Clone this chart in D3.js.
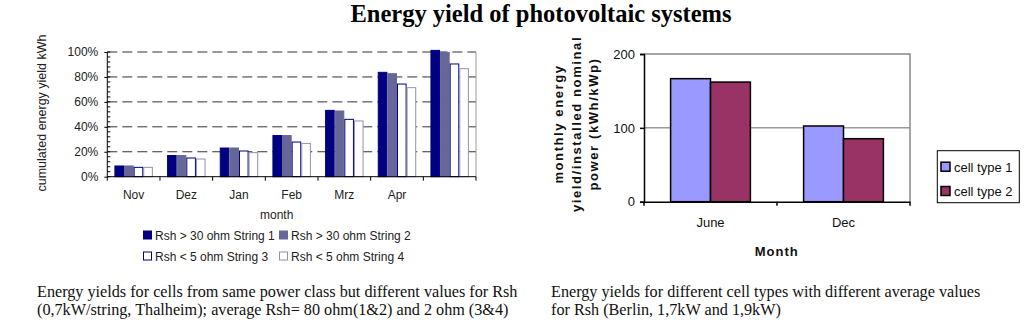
<!DOCTYPE html>
<html>
<head>
<meta charset="utf-8">
<script src="https://cdn.jsdelivr.net/npm/d3@7/dist/d3.min.js"></script>
<style>
  body { margin: 0; background: #fff; }
  svg text { font-family: "Liberation Sans", Arial, sans-serif; }
  .serif { font-family: "Liberation Serif", "Times New Roman", serif !important; }
</style>
</head>
<body>
<svg id="chart" width="1024" height="323"></svg>
<script>
// left chart: cumulated yield per string
const months = ["Nov", "Dez", "Jan", "Feb", "Mrz", "Apr", ""];
const string1 = [0.086, 0.17, 0.23, 0.33, 0.532, 0.837, 1.013];
const string2 = [0.086, 0.17, 0.23, 0.33, 0.527, 0.826, 0.997];
const string3 = [0.075, 0.15, 0.206, 0.278, 0.46, 0.743, 0.904];
const string4 = [0.075, 0.142, 0.193, 0.267, 0.447, 0.714, 0.866];
const stringNames = ["Rsh > 30 ohm String 1", "Rsh > 30 ohm String 2",
                     "Rsh < 5 ohm String 3", "Rsh < 5 ohm String 4"];
const pctTicks = [0, 0.2, 0.4, 0.6, 0.8, 1.0];

// right chart: monthly yield per cell type
const periods = ["June", "Dec"];
const cellType1 = [166.6, 102.5];
const cellType2 = [162, 85.3];
const cellNames = ["cell type 1", "cell type 2"];
const yieldTicks = [0, 100, 200];

const svg = d3.select("#chart");

svg.append("text")
    .attr("class", "serif")
    .attr("x", 541).attr("y", 22)
    .attr("text-anchor", "middle")
    .style("font-size", "24.5px").style("font-weight", "bold")
    .text("Energy yield of photovoltaic systems");

// ---------- left chart ----------
const L = { left: 107.3, right: 476, top: 52, bottom: 176.7 };
const strings = [string1, string2, string3, string4];
const stringFill = ["#000080", "#666699", "#ffffff", "#ffffff"];
const stringStroke = ["#000080", "#666699", "#000080", "#9090b0"];

const x0 = d3.scaleBand().domain(d3.range(months.length))
    .range([L.left, L.right]).paddingInner(0.27).paddingOuter(0.135);
const x1 = d3.scaleBand().domain(d3.range(strings.length))
    .range([0, x0.bandwidth()]);
const yL = d3.scaleLinear().domain([0, 1]).range([L.bottom, L.top]);

const gl = svg.append("g");

// dashed grid
gl.append("g").selectAll("line")
    .data(pctTicks.slice(1))
    .join("line")
    .attr("x1", L.left).attr("x2", L.right)
    .attr("y1", d => yL(d)).attr("y2", d => yL(d))
    .attr("stroke", "#333").attr("stroke-width", 1)
    .attr("stroke-dasharray", "10,5");

// right frame edge
gl.append("line")
    .attr("x1", L.right).attr("x2", L.right)
    .attr("y1", L.top).attr("y2", L.bottom)
    .attr("stroke", "#999");

// bars
strings.forEach((vals, s) => {
    gl.append("g").selectAll("rect")
        .data(vals)
        .join("rect")
        .attr("x", (d, i) => x0(i) + x1(s) + 0.5)
        .attr("y", d => yL(d))
        .attr("width", x1.bandwidth() - 1)
        .attr("height", d => L.bottom - yL(d))
        .attr("fill", stringFill[s])
        .attr("stroke", stringStroke[s]).attr("stroke-width", 1);
});

// y axis
const yAxisL = d3.axisLeft(yL).tickValues(pctTicks)
    .tickFormat(d3.format(".0%")).tickSize(3).tickPadding(6);
gl.append("g")
    .attr("transform", `translate(${L.left},0)`)
    .call(yAxisL)
    .call(g => g.select(".domain").remove())
    .call(g => g.selectAll("text").style("font-size", "12px").attr("fill", "#222"));
gl.append("g").selectAll("line")
    .data(d3.range(0, 1.0001, 0.04))
    .join("line")
    .attr("x1", L.left).attr("x2", L.left + 3)
    .attr("y1", d => yL(d)).attr("y2", d => yL(d))
    .attr("stroke", "#000");
gl.append("line")
    .attr("x1", L.left).attr("x2", L.left)
    .attr("y1", L.top).attr("y2", L.bottom)
    .attr("stroke", "#000");

// x axis: category boundaries and labels
const stepL = x0.step();
gl.append("line")
    .attr("x1", L.left).attr("x2", L.right)
    .attr("y1", L.bottom).attr("y2", L.bottom)
    .attr("stroke", "#000");
gl.append("g").selectAll("line")
    .data(d3.range(months.length + 1))
    .join("line")
    .attr("x1", i => L.left + i * stepL).attr("x2", i => L.left + i * stepL)
    .attr("y1", L.bottom).attr("y2", L.bottom + 4)
    .attr("stroke", "#000");
gl.append("g").selectAll("text")
    .data(months)
    .join("text")
    .attr("x", (d, i) => x0(i) + x0.bandwidth() / 2)
    .attr("y", 199)
    .attr("text-anchor", "middle")
    .style("font-size", "12px").attr("fill", "#222")
    .text(d => d);

gl.append("text")
    .attr("x", 276.7).attr("y", 219)
    .attr("text-anchor", "middle")
    .style("font-size", "12px").attr("fill", "#222")
    .text("month");

gl.append("text")
    .attr("transform", "translate(46,113) rotate(-90)")
    .attr("text-anchor", "middle")
    .style("font-size", "12.5px").attr("fill", "#222")
    .text("cumulated energy yield kWh");

// legend
const legendPos = [[143, 235], [279, 235], [143, 256], [279, 256]];
const lgL = gl.append("g").selectAll("g")
    .data(stringNames)
    .join("g")
    .attr("transform", (d, i) => `translate(${legendPos[i][0]},${legendPos[i][1]})`);
lgL.append("rect")
    .attr("x", 0.5).attr("y", -4).attr("width", 8).attr("height", 8)
    .attr("fill", (d, i) => stringFill[i])
    .attr("stroke", (d, i) => stringStroke[i]);
lgL.append("text")
    .attr("x", 12).attr("y", 4.5)
    .style("font-size", "12px").attr("fill", "#222")
    .text(d => d);

// ---------- right chart ----------
const R = { left: 644, right: 910, top: 54, bottom: 201.7 };
const cells = [cellType1, cellType2];
const cellFill = ["#9999ff", "#993366"];

const xr0 = d3.scaleBand().domain(periods)
    .range([R.left, R.right]).paddingInner(0.4).paddingOuter(0.2);
const xr1 = d3.scaleBand().domain(d3.range(cells.length))
    .range([0, xr0.bandwidth()]);
const yR = d3.scaleLinear().domain([0, 200]).range([R.bottom, R.top]);

const gr = svg.append("g");

// grid and frame
gr.append("g").selectAll("line")
    .data(yieldTicks.slice(1, -1))
    .join("line")
    .attr("x1", R.left).attr("x2", R.right)
    .attr("y1", d => yR(d)).attr("y2", d => yR(d))
    .attr("stroke", "#666");
gr.append("path")
    .attr("d", `M${R.left},${R.top}H${R.right}V${R.bottom}`)
    .attr("fill", "none").attr("stroke", "#888").attr("stroke-width", 1.5);

cells.forEach((vals, s) => {
    gr.append("g").selectAll("rect")
        .data(vals)
        .join("rect")
        .attr("x", (d, i) => xr0(periods[i]) + xr1(s))
        .attr("y", d => yR(d))
        .attr("width", xr1.bandwidth())
        .attr("height", d => R.bottom - yR(d))
        .attr("fill", cellFill[s])
        .attr("stroke", "#000").attr("stroke-width", 1.5);
});

const yAxisR = d3.axisLeft(yR).tickValues(yieldTicks).tickSize(4).tickPadding(5);
gr.append("g")
    .attr("transform", `translate(${R.left},0)`)
    .call(yAxisR)
    .call(g => g.select(".domain").attr("stroke-width", 1.5))
    .call(g => g.selectAll("line").attr("stroke-width", 1.5))
    .call(g => g.selectAll("text").style("font-size", "13px").attr("fill", "#111"));

const xAxisR = d3.axisBottom(xr0).tickSize(0).tickPadding(16);
gr.append("g")
    .attr("transform", `translate(0,${R.bottom})`)
    .call(xAxisR)
    .call(g => g.select(".domain").attr("stroke-width", 1.5))
    .call(g => g.selectAll("text").style("font-size", "13px").attr("fill", "#111"));
const stepR = xr0.step();
gr.append("g").selectAll("line")
    .data(d3.range(periods.length + 1))
    .join("line")
    .attr("x1", i => R.left + i * stepR).attr("x2", i => R.left + i * stepR)
    .attr("y1", R.bottom).attr("y2", R.bottom + 4)
    .attr("stroke", "#000").attr("stroke-width", 1.5);

gr.append("text")
    .attr("x", 776.7).attr("y", 256)
    .attr("text-anchor", "middle")
    .style("font-size", "13px").style("font-weight", "bold")
    .style("letter-spacing", "1px").attr("fill", "#111")
    .text("Month");

const yTitle = ["monthly energy", "yield/installed nominal", "power (kWh/kWp)"];
gr.append("g").selectAll("text")
    .data(yTitle)
    .join("text")
    .attr("transform", (d, i) => `translate(${563 + i * 17.5},124) rotate(-90)`)
    .attr("text-anchor", "middle")
    .style("font-size", "13px").style("font-weight", "bold")
    .style("letter-spacing", "1.6px").attr("fill", "#111")
    .text(d => d);

// legend
gr.append("rect")
    .attr("x", 937.3).attr("y", 150.7).attr("width", 82).attr("height", 52)
    .attr("fill", "#fff").attr("stroke", "#000");
const lgR = gr.append("g").selectAll("g")
    .data(cellNames)
    .join("g")
    .attr("transform", (d, i) => `translate(941,${166.7 + i * 24.3})`);
lgR.append("rect")
    .attr("x", 0).attr("y", -4.5).attr("width", 9).attr("height", 9)
    .attr("fill", (d, i) => cellFill[i])
    .attr("stroke", "#000").attr("stroke-width", 1.5);
lgR.append("text")
    .attr("x", 13).attr("y", 5)
    .style("font-size", "13px").attr("fill", "#111")
    .text(d => d);

// ---------- captions ----------
const captionLeft = ["Energy yields for cells from same power class but different values for Rsh",
                     "(0,7kW/string, Thalheim); average Rsh= 80 ohm(1&2) and 2 ohm (3&4)"];
const captionRight = ["Energy yields for different cell types with different average values",
                      "for Rsh (Berlin, 1,7kW and 1,9kW)"];
[[37, captionLeft], [551, captionRight]].forEach(([x, lines]) => {
    svg.append("g").selectAll("text")
        .data(lines)
        .join("text")
        .attr("class", "serif")
        .attr("x", x).attr("y", (d, i) => 297 + i * 17.5)
        .style("font-size", "16.2px").attr("fill", "#111")
        .text(d => d);
});
</script>
</body>
</html>
